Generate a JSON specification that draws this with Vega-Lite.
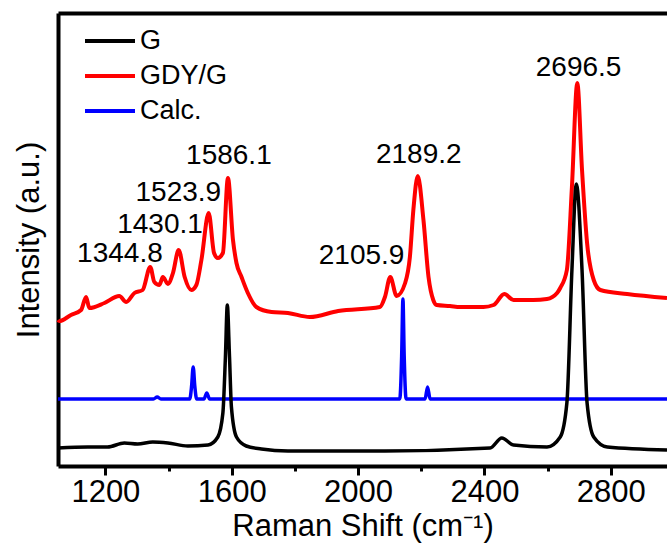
{
  "$schema": "https://vega.github.io/schema/vega-lite/v6.json",
  "width": 609,
  "height": 453,
  "autosize": "none",
  "padding": {"left": 58, "top": 13, "right": 0, "bottom": 84},
  "background": "white",
  "config": {
    "font": "Liberation Sans",
    "view": {"stroke": null},
    "axis": {
      "grid": false,
      "domainColor": "black",
      "domainWidth": 4,
      "tickColor": "black",
      "labelColor": "black",
      "titleColor": "black",
      "labelFont": "Liberation Sans",
      "titleFont": "Liberation Sans",
      "titleFontWeight": "normal"
    },
    "legend": {
      "orient": "none",
      "legendX": 37.5,
      "legendY": 13.5,
      "symbolType": "M-2,0H2",
      "symbolSize": 625,
      "symbolStrokeWidth": 4,
      "labelFontSize": 27,
      "labelFont": "Liberation Sans",
      "labelColor": "black",
      "labelOffset": 15.5,
      "padding": 0,
      "rowPadding": 7
    }
  },
  "datasets": {
    "spectra": [
      {"series": "GDY/G", "shift": 1050, "intensity": 146},
      {"series": "GDY/G", "shift": 1054, "intensity": 145},
      {"series": "GDY/G", "shift": 1091, "intensity": 151},
      {"series": "GDY/G", "shift": 1123, "intensity": 156},
      {"series": "GDY/G", "shift": 1139, "intensity": 169},
      {"series": "GDY/G", "shift": 1149, "intensity": 158},
      {"series": "GDY/G", "shift": 1197, "intensity": 163},
      {"series": "GDY/G", "shift": 1244, "intensity": 170},
      {"series": "GDY/G", "shift": 1266, "intensity": 164},
      {"series": "GDY/G", "shift": 1292, "intensity": 173},
      {"series": "GDY/G", "shift": 1318, "intensity": 176},
      {"series": "GDY/G", "shift": 1342, "intensity": 199},
      {"series": "GDY/G", "shift": 1355, "intensity": 184},
      {"series": "GDY/G", "shift": 1371, "intensity": 181},
      {"series": "GDY/G", "shift": 1382, "intensity": 189},
      {"series": "GDY/G", "shift": 1398, "intensity": 182},
      {"series": "GDY/G", "shift": 1414, "intensity": 193},
      {"series": "GDY/G", "shift": 1432, "intensity": 216},
      {"series": "GDY/G", "shift": 1451, "intensity": 189},
      {"series": "GDY/G", "shift": 1472, "intensity": 176},
      {"series": "GDY/G", "shift": 1488, "intensity": 181},
      {"series": "GDY/G", "shift": 1504, "intensity": 206},
      {"series": "GDY/G", "shift": 1527, "intensity": 253},
      {"series": "GDY/G", "shift": 1544, "intensity": 213},
      {"series": "GDY/G", "shift": 1556, "intensity": 208},
      {"series": "GDY/G", "shift": 1572, "intensity": 213},
      {"series": "GDY/G", "shift": 1588, "intensity": 288},
      {"series": "GDY/G", "shift": 1604, "intensity": 226},
      {"series": "GDY/G", "shift": 1615, "intensity": 203},
      {"series": "GDY/G", "shift": 1631, "intensity": 189},
      {"series": "GDY/G", "shift": 1651, "intensity": 173},
      {"series": "GDY/G", "shift": 1678, "intensity": 159},
      {"series": "GDY/G", "shift": 1726, "intensity": 154},
      {"series": "GDY/G", "shift": 1778, "intensity": 153},
      {"series": "GDY/G", "shift": 1847, "intensity": 149},
      {"series": "GDY/G", "shift": 1937, "intensity": 155},
      {"series": "GDY/G", "shift": 2069, "intensity": 159},
      {"series": "GDY/G", "shift": 2085, "intensity": 169},
      {"series": "GDY/G", "shift": 2102, "intensity": 189},
      {"series": "GDY/G", "shift": 2122, "intensity": 170},
      {"series": "GDY/G", "shift": 2149, "intensity": 183},
      {"series": "GDY/G", "shift": 2164, "intensity": 209},
      {"series": "GDY/G", "shift": 2175, "intensity": 256},
      {"series": "GDY/G", "shift": 2189, "intensity": 290},
      {"series": "GDY/G", "shift": 2207, "intensity": 246},
      {"series": "GDY/G", "shift": 2223, "intensity": 189},
      {"series": "GDY/G", "shift": 2238, "intensity": 166},
      {"series": "GDY/G", "shift": 2249, "intensity": 161},
      {"series": "GDY/G", "shift": 2291, "intensity": 160},
      {"series": "GDY/G", "shift": 2323, "intensity": 159},
      {"series": "GDY/G", "shift": 2397, "intensity": 159},
      {"series": "GDY/G", "shift": 2429, "intensity": 161},
      {"series": "GDY/G", "shift": 2463, "intensity": 172},
      {"series": "GDY/G", "shift": 2492, "intensity": 166},
      {"series": "GDY/G", "shift": 2555, "intensity": 166},
      {"series": "GDY/G", "shift": 2598, "intensity": 167},
      {"series": "GDY/G", "shift": 2630, "intensity": 173},
      {"series": "GDY/G", "shift": 2640, "intensity": 178},
      {"series": "GDY/G", "shift": 2661, "intensity": 196},
      {"series": "GDY/G", "shift": 2677, "intensity": 279},
      {"series": "GDY/G", "shift": 2694, "intensity": 383},
      {"series": "GDY/G", "shift": 2709, "intensity": 296},
      {"series": "GDY/G", "shift": 2725, "intensity": 223},
      {"series": "GDY/G", "shift": 2746, "intensity": 186},
      {"series": "GDY/G", "shift": 2767, "intensity": 176},
      {"series": "GDY/G", "shift": 2852, "intensity": 172},
      {"series": "GDY/G", "shift": 2978, "intensity": 168},
      {"series": "G", "shift": 1050, "intensity": 18},
      {"series": "G", "shift": 1144, "intensity": 19},
      {"series": "G", "shift": 1207, "intensity": 19},
      {"series": "G", "shift": 1260, "intensity": 23},
      {"series": "G", "shift": 1302, "intensity": 22},
      {"series": "G", "shift": 1350, "intensity": 24},
      {"series": "G", "shift": 1398, "intensity": 23},
      {"series": "G", "shift": 1461, "intensity": 20},
      {"series": "G", "shift": 1525, "intensity": 21},
      {"series": "G", "shift": 1556, "intensity": 29},
      {"series": "G", "shift": 1572, "intensity": 53},
      {"series": "G", "shift": 1580, "intensity": 109},
      {"series": "G", "shift": 1586, "intensity": 161},
      {"series": "G", "shift": 1593, "intensity": 109},
      {"series": "G", "shift": 1599, "intensity": 59},
      {"series": "G", "shift": 1615, "intensity": 29},
      {"series": "G", "shift": 1646, "intensity": 20},
      {"series": "G", "shift": 1694, "intensity": 17},
      {"series": "G", "shift": 1778, "intensity": 15},
      {"series": "G", "shift": 1884, "intensity": 15},
      {"series": "G", "shift": 2085, "intensity": 15},
      {"series": "G", "shift": 2418, "intensity": 18},
      {"series": "G", "shift": 2455, "intensity": 28},
      {"series": "G", "shift": 2492, "intensity": 21},
      {"series": "G", "shift": 2598, "intensity": 19},
      {"series": "G", "shift": 2640, "intensity": 29},
      {"series": "G", "shift": 2661, "intensity": 63},
      {"series": "G", "shift": 2677, "intensity": 196},
      {"series": "G", "shift": 2691, "intensity": 282},
      {"series": "G", "shift": 2709, "intensity": 196},
      {"series": "G", "shift": 2725, "intensity": 63},
      {"series": "G", "shift": 2746, "intensity": 29},
      {"series": "G", "shift": 2789, "intensity": 19},
      {"series": "G", "shift": 2978, "intensity": 16},
      {"series": "Calc.", "shift": 1050, "intensity": 67},
      {"series": "Calc.", "shift": 1352, "intensity": 67},
      {"series": "Calc.", "shift": 1364, "intensity": 69},
      {"series": "Calc.", "shift": 1376, "intensity": 67},
      {"series": "Calc.", "shift": 1467, "intensity": 67},
      {"series": "Calc.", "shift": 1473, "intensity": 80},
      {"series": "Calc.", "shift": 1478, "intensity": 99},
      {"series": "Calc.", "shift": 1483, "intensity": 80},
      {"series": "Calc.", "shift": 1489, "intensity": 67},
      {"series": "Calc.", "shift": 1512, "intensity": 67},
      {"series": "Calc.", "shift": 1521, "intensity": 73},
      {"series": "Calc.", "shift": 1530, "intensity": 67},
      {"series": "Calc.", "shift": 2132, "intensity": 67},
      {"series": "Calc.", "shift": 2138, "intensity": 110},
      {"series": "Calc.", "shift": 2142, "intensity": 167},
      {"series": "Calc.", "shift": 2146, "intensity": 110},
      {"series": "Calc.", "shift": 2152, "intensity": 67},
      {"series": "Calc.", "shift": 2212, "intensity": 67},
      {"series": "Calc.", "shift": 2220, "intensity": 79},
      {"series": "Calc.", "shift": 2228, "intensity": 67},
      {"series": "Calc.", "shift": 2978, "intensity": 67}
    ],
    "labels": [
      {"text": "1344.8", "shift": 1246, "intensity": 204},
      {"text": "1430.1", "shift": 1373, "intensity": 233},
      {"text": "1523.9", "shift": 1431, "intensity": 265},
      {"text": "1586.1", "shift": 1591, "intensity": 302},
      {"text": "2105.9", "shift": 2011, "intensity": 202},
      {"text": "2189.2", "shift": 2192, "intensity": 303},
      {"text": "2696.5", "shift": 2698, "intensity": 390}
    ]
  },
  "encoding": {
    "y": {
      "field": "intensity",
      "type": "quantitative",
      "scale": {"domain": [0, 453], "nice": false, "zero": false},
      "axis": {
        "title": "Intensity (a.u.)",
        "labels": false,
        "ticks": false,
        "titleFontSize": 31,
        "titlePadding": 13,
        "domainWidth": 4
      }
    }
  },
  "layer": [
    {
      "data": {"name": "spectra"},
      "transform": [{"filter": "datum.series === 'GDY/G'"}],
      "mark": {"type": "line", "strokeWidth": 4, "interpolate": "monotone"},
      "encoding": {
        "x": {
          "field": "shift",
          "type": "quantitative",
          "scale": {"domain": [1050, 2978], "nice": false, "zero": false},
          "axis": {"orient": "top", "labels": false, "ticks": false, "title": null, "domainWidth": 4}
        },
        "color": {
          "field": "series",
          "type": "nominal",
          "scale": {"domain": ["G", "GDY/G", "Calc."], "range": ["#000000", "#ff0000", "#0000ff"]},
          "legend": {"title": null}
        }
      }
    },
    {
      "data": {"name": "spectra"},
      "transform": [{"filter": "datum.series === 'Calc.'"}],
      "mark": {"type": "line", "strokeWidth": 3.5, "interpolate": "monotone"},
      "encoding": {
        "x": {"field": "shift", "type": "quantitative", "axis": null},
        "color": {"field": "series", "type": "nominal", "legend": {"title": null}}
      }
    },
    {
      "data": {"name": "spectra"},
      "transform": [{"filter": "datum.series === 'G'"}],
      "mark": {"type": "line", "strokeWidth": 3.5, "interpolate": "monotone"},
      "encoding": {
        "x": {
          "field": "shift",
          "type": "quantitative",
          "axis": {
            "orient": "bottom",
            "values": [1200, 1400, 1600, 1800, 2000, 2200, 2400, 2600, 2800],
            "format": "d",
            "labelExpr": "datum.value % 400 === 0 ? datum.label : ''",
            "tickSize": {"condition": {"test": "datum.value % 400 === 0", "value": 9}, "value": 5},
            "tickWidth": 3,
            "labelFontSize": 31,
            "labelPadding": 2,
            "title": "Raman Shift (cm⁻¹)",
            "titleFontSize": 31,
            "titlePadding": 4,
            "domainWidth": 4
          }
        },
        "color": {"field": "series", "type": "nominal", "legend": {"title": null}}
      }
    },
    {
      "data": {"name": "labels"},
      "mark": {"type": "text", "fontSize": 28, "align": "center", "baseline": "alphabetic", "color": "black", "font": "Liberation Sans"},
      "encoding": {
        "x": {"field": "shift", "type": "quantitative", "axis": null},
        "text": {"field": "text", "type": "nominal"}
      }
    }
  ],
  "resolve": {"axis": {"x": "independent"}}
}
